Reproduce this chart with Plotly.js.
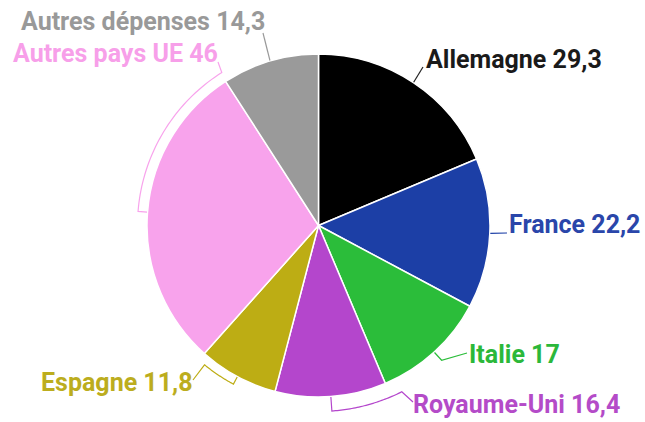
<!DOCTYPE html>
<html>
<head>
<meta charset="utf-8">
<script src="https://cdn.plot.ly/plotly-3.0.1.min.js"></script>
<style>html,body{margin:0;padding:0;background:#fff;}#chart{width:645px;height:422px;}</style>
</head>
<body>
<div id="chart"></div>
<script>
// ---- Data ----
const categories = ["Allemagne", "France", "Italie", "Royaume-Uni", "Espagne", "Autres pays UE", "Autres dépenses"];
const values = [29.3, 22.2, 17, 16.4, 11.8, 46, 14.3];
const valueLabels = ["29,3", "22,2", "17", "16,4", "11,8", "46", "14,3"];
const colors = ["#000000", "#1c3fa6", "#2bbd3a", "#b446cc", "#bdad14", "#f8a3ec", "#9a9a9a"];
const textColors = ["#1a1a1a", "#2a46aa", "#2bb83a", "#b44bc8", "#bcad1e", "#f79fe9", "#999999"];

// ---- Layout config (pixels) ----
const W = 645, H = 422;
const CX = 318.5, CY = 225.5, R = 171.5;

// leader style per slice: label anchor point, side, and routing
const leaders = [
  {type: "direct", end: [423, 67], label: [424, 59], anchor: "left"},
  {type: "direct", end: [507, 233], label: [507, 224], anchor: "left"},
  {type: "bend", out: 11, end: [467, 353], label: [467, 354], anchor: "left"},
  {type: "arc", r: 186, toAngle: 153.4, end: [413, 402], label: [411, 404], anchor: "left"},
  {type: "arc", r: 180, toAngle: 219.3, end: [193, 380], label: [195, 382], anchor: "right"},
  {type: "arc", r: 181, toAngle: 327.7, end: [218, 62], label: [220, 53], anchor: "right"},
  {type: "direct", end: [263, 33], label: [267, 22], anchor: "right"}
];

function polar(deg, r) {
  const a = deg * Math.PI / 180;
  return [CX + r * Math.sin(a), CY - r * Math.cos(a)];
}
function toPaper(p) { return [p[0] / W, 1 - p[1] / H]; }

const total = values.reduce((a, b) => a + b, 0);
let cum = 0;
const mids = values.map(v => { const m = (cum + v / 2) / total * 360; cum += v; return m; });

const shapes = [];
const annotations = [];
leaders.forEach((ld, i) => {
  const mid = mids[i];
  let pts = [polar(mid, R + 0.5)];
  if (ld.type === "bend") {
    pts.push(polar(mid, R + ld.out));
  } else if (ld.type === "arc") {
    pts.push(polar(mid, ld.r));
    const n = 40;
    for (let k = 1; k <= n; k++) {
      const a = mid + (ld.toAngle - mid) * k / n;
      pts.push(polar(a, ld.r));
    }
  }
  pts.push(ld.end);
  const path = pts.map((p, k) => {
    const q = toPaper(p);
    return (k === 0 ? "M" : "L") + q[0].toFixed(5) + "," + q[1].toFixed(5);
  }).join(" ");
  shapes.push({type: "path", xref: "paper", yref: "paper", path: path,
    line: {color: colors[i] === "#000000" ? "#222222" : colors[i], width: 1.2}});
  const lp = toPaper(ld.label);
  annotations.push({
    xref: "paper", yref: "paper", x: lp[0], y: lp[1],
    xanchor: ld.anchor, yanchor: "middle", showarrow: false,
    text: "<b>" + categories[i] + " " + valueLabels[i] + "</b>",
    font: {family: "Roboto, Arial, sans-serif", size: 25, color: textColors[i]}
  });
});

const trace = {
  type: "pie",
  labels: categories,
  values: values,
  sort: false,
  direction: "clockwise",
  rotation: 0,
  textinfo: "none",
  hoverinfo: "none",
  marker: {colors: colors, line: {color: "#ffffff", width: 1.5}},
  domain: {x: [(CX - R) / W, (CX + R) / W], y: [1 - (CY + R) / H, 1 - (CY - R) / H]}
};

const layout = {
  width: W, height: H, autosize: false,
  margin: {l: 0, r: 0, t: 0, b: 0},
  paper_bgcolor: "#ffffff",
  showlegend: false,
  shapes: shapes,
  annotations: annotations
};

Plotly.newPlot("chart", [trace], layout, {displayModeBar: false, staticPlot: true});
</script>
</body>
</html>
